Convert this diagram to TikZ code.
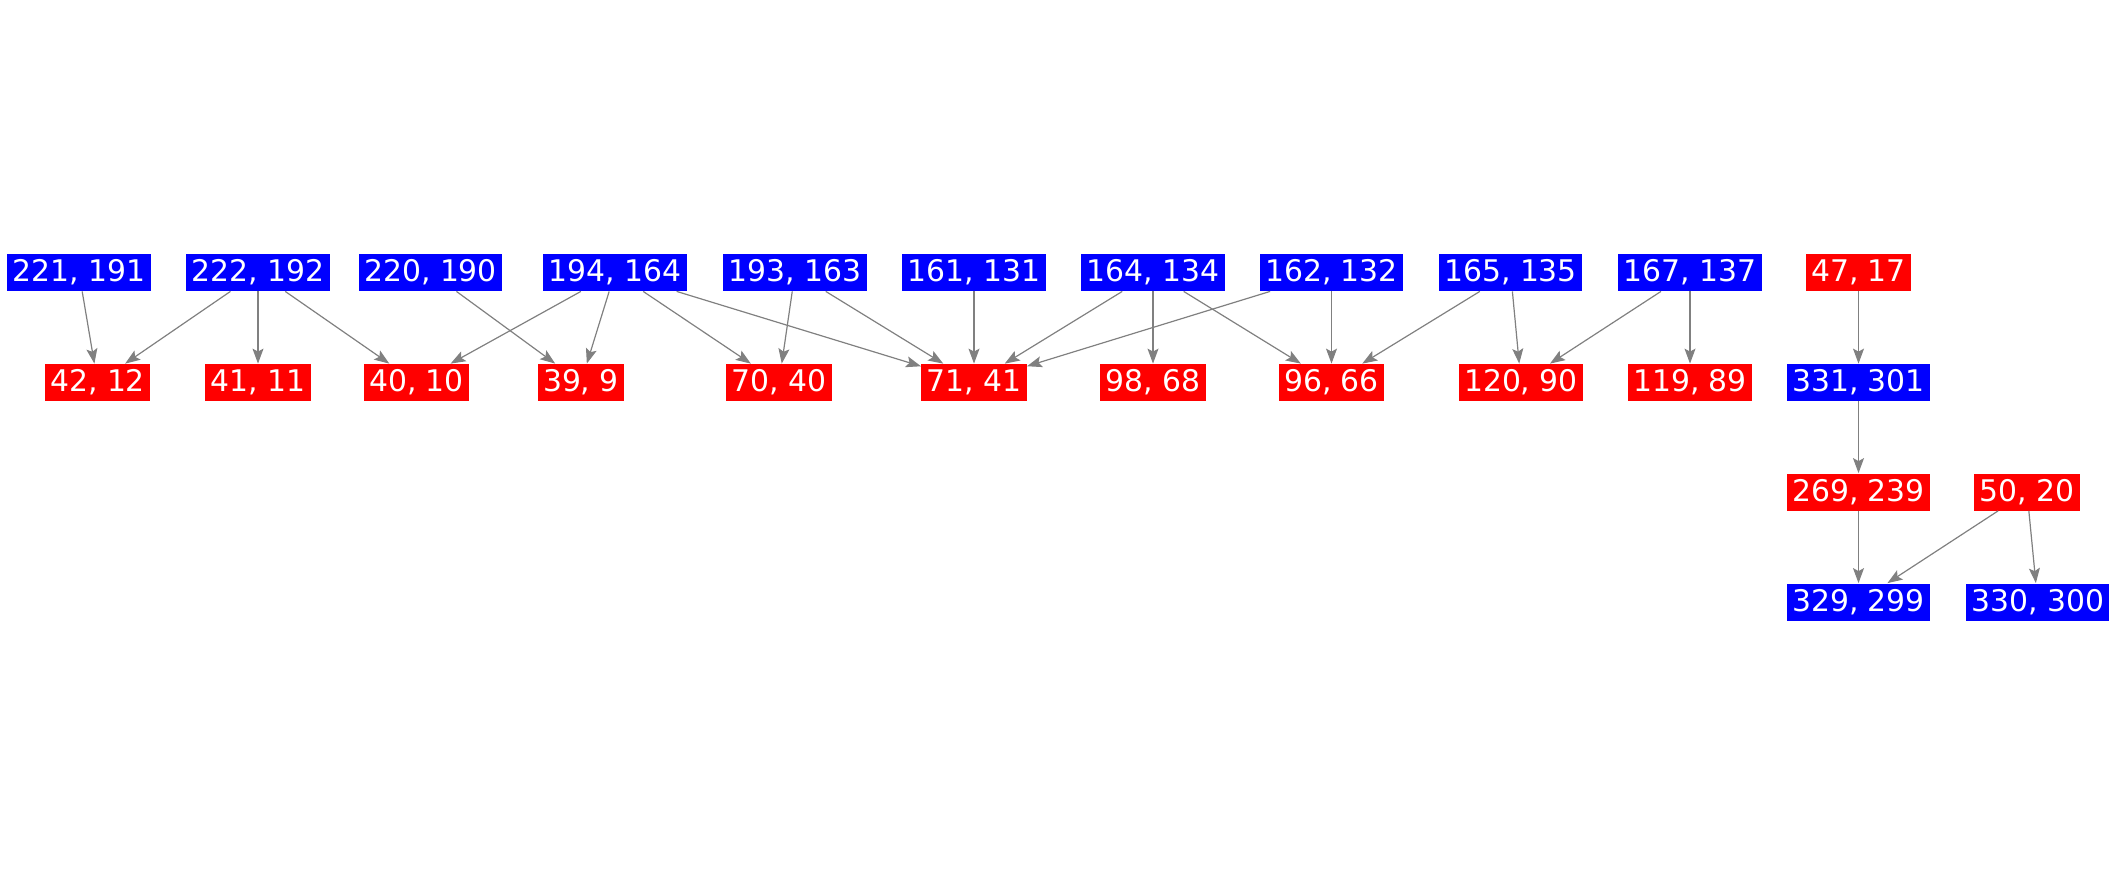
\documentclass[tikz,border=0pt]{standalone}
\usepackage{fontspec}
\setmainfont{DejaVu Sans}
\usetikzlibrary{arrows.meta}
\definecolor{nblue}{HTML}{0000FF}
\definecolor{nred}{HTML}{FF0000}
\definecolor{egray}{HTML}{808080}
\begin{document}
\begin{tikzpicture}[x=0.5pt,y=-0.5pt,
  base/.style={inner xsep=2.6pt,inner ysep=0pt,minimum height=18.5pt,text=white,
    font=\fontsize{14.9}{17}\selectfont},
  bnode/.style={base,fill=nblue},
  rnode/.style={base,fill=nred},
  edge/.style={draw=egray,line width=0.6pt,-{Stealth[length=7.5pt,width=5.5pt,inset=1.5pt]}}]
\useasboundingbox (0,0) rectangle (2117,875);
% row 1
\node[bnode] (a221) at (79,272.5) {221, 191};
\node[bnode] (a222) at (258,272.5) {222, 192};
\node[bnode] (a220) at (430.6,272.5) {220, 190};
\node[bnode] (a194) at (615,272.5) {194, 164};
\node[bnode] (a193) at (795,272.5) {193, 163};
\node[bnode] (a161) at (974,272.5) {161, 131};
\node[bnode] (a164) at (1153,272.5) {164, 134};
\node[bnode] (a162) at (1331.5,272.5) {162, 132};
\node[bnode] (a165) at (1510.6,272.5) {165, 135};
\node[bnode] (a167) at (1690,272.5) {167, 137};
\node[rnode] (a47) at (1858.5,272.5) {47, 17};
% row 2
\node[rnode] (b42) at (97.6,382.5) {42, 12};
\node[rnode] (b41) at (258,382.5) {41, 11};
\node[rnode] (b40) at (416.5,382.5) {40, 10};
\node[rnode] (b39) at (581,382.5) {39, 9};
\node[rnode] (b70) at (779,382.5) {70, 40};
\node[rnode] (b71) at (974,382.5) {71, 41};
\node[rnode] (b98) at (1153,382.5) {98, 68};
\node[rnode] (b96) at (1331.5,382.5) {96, 66};
\node[rnode] (b120) at (1521,382.5) {120, 90};
\node[rnode] (b119) at (1690,382.5) {119, 89};
\node[bnode] (b331) at (1858.5,382.5) {331, 301};
% row 3
\node[rnode] (c269) at (1858.5,492) {269, 239};
\node[rnode] (c50) at (2027,492) {50, 20};
% row 4
\node[bnode] (d329) at (1858.5,602) {329, 299};
\node[bnode] (d330) at (2037.7,602) {330, 300};
% edges
\draw[edge] (a221) -- (b42);
\draw[edge] (a222) -- (b42);
\draw[edge] (a222) -- (b41);
\draw[edge] (a222) -- (b40);
\draw[edge] (a220) -- (b39);
\draw[edge] (a194) -- (b40);
\draw[edge] (a194) -- (b39);
\draw[edge] (a194) -- (b70);
\draw[edge] (a194) -- (b71);
\draw[edge] (a193) -- (b70);
\draw[edge] (a193) -- (b71);
\draw[edge] (a161) -- (b71);
\draw[edge] (a164) -- (b71);
\draw[edge] (a164) -- (b98);
\draw[edge] (a164) -- (b96);
\draw[edge] (a162) -- (b71);
\draw[edge] (a162) -- (b96);
\draw[edge] (a165) -- (b96);
\draw[edge] (a165) -- (b120);
\draw[edge] (a167) -- (b120);
\draw[edge] (a167) -- (b119);
\draw[edge] (a47) -- (b331);
\draw[edge] (b331) -- (c269);
\draw[edge] (c269) -- (d329);
\draw[edge] (c50) -- (d329);
\draw[edge] (c50) -- (d330);
\end{tikzpicture}
\end{document}
